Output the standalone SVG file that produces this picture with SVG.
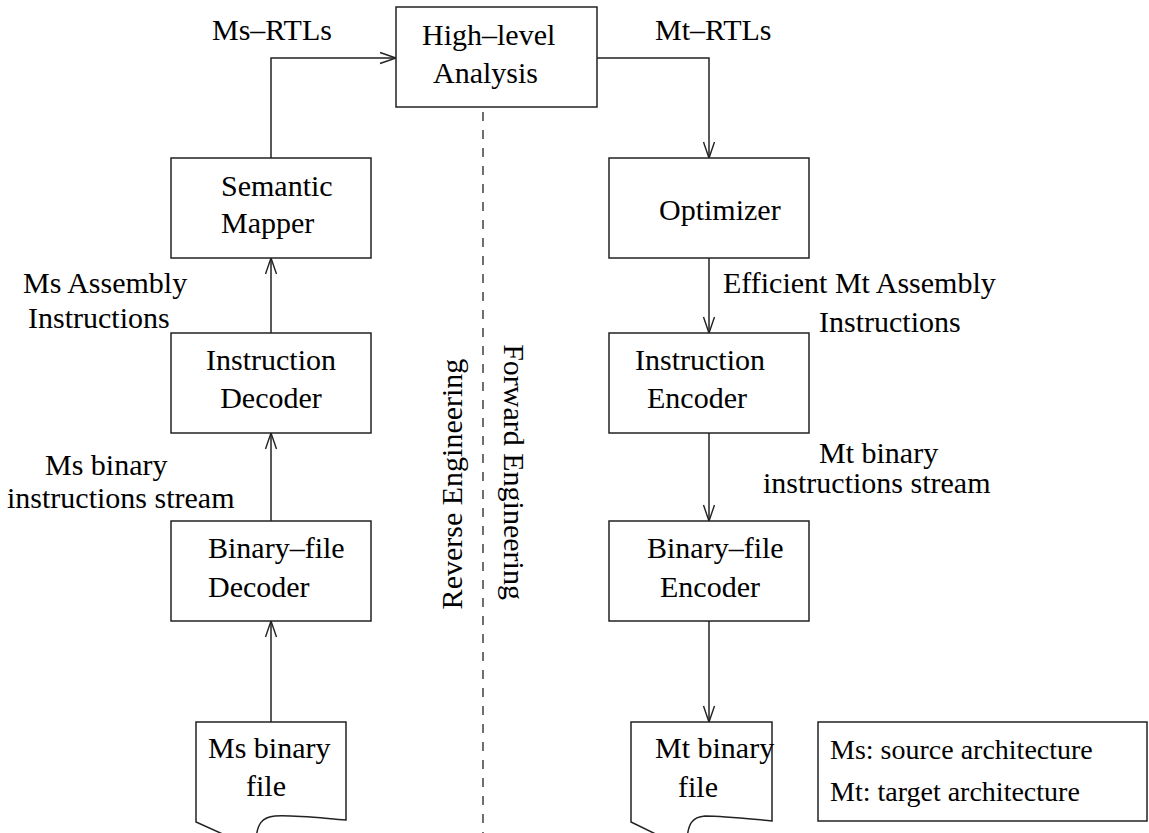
<svg xmlns="http://www.w3.org/2000/svg" width="1149" height="833" viewBox="0 0 1149 833">
<style>
  .box { fill: #ffffff; stroke: #222; stroke-width: 1.5; }
  .ln { fill: none; stroke: #222; stroke-width: 1.5; }
  .t { font-family: "Liberation Serif", "Times New Roman", serif; font-size: 30px; fill: #000; }
  .s { font-family: "Liberation Serif", "Times New Roman", serif; font-size: 28px; fill: #000; }
  .dash { fill: none; stroke: #222; stroke-width: 1.3; stroke-dasharray: 9 9; }
</style>
<defs>
  <marker id="arr" markerUnits="userSpaceOnUse" markerWidth="20" markerHeight="16" viewBox="-17 -8 19 16" refX="0" refY="0" orient="auto">
    <path d="M-16,-5.5 L0,0 L-16,5.5" fill="none" stroke="#222" stroke-width="1.4"/>
  </marker>
</defs>
<rect width="1149" height="833" fill="#ffffff"/>

<g id="connectors">
  <path class="ln" d="M271,158 V58 H396" marker-end="url(#arr)"/>
  <path class="ln" d="M271,333 V258" marker-end="url(#arr)"/>
  <path class="ln" d="M271,521 V433" marker-end="url(#arr)"/>
  <path class="ln" d="M271,722 V621" marker-end="url(#arr)"/>
  <path class="ln" d="M597,58 H709 V158" marker-end="url(#arr)"/>
  <path class="ln" d="M709,258 V333" marker-end="url(#arr)"/>
  <path class="ln" d="M709,433 V521" marker-end="url(#arr)"/>
  <path class="ln" d="M709,621 V722" marker-end="url(#arr)"/>
</g>

<g id="labels">
  <text class="t" x="212" y="40">Ms–RTLs</text>
  <text class="t" x="655" y="40">Mt–RTLs</text>
  <text class="t" x="23" y="293">Ms Assembly</text>
  <text class="t" x="28" y="328">Instructions</text>
  <text class="t" x="45" y="475">Ms binary</text>
  <text class="t" x="7" y="508">instructions stream</text>
  <text class="t" x="723" y="293">Efficient Mt Assembly</text>
  <text class="t" x="819" y="332">Instructions</text>
  <text class="t" x="819" y="463">Mt binary</text>
  <text class="t" x="763" y="493">instructions stream</text>
</g>

<g id="divider">
  <line class="dash" x1="483" y1="112" x2="483" y2="833"/>
  <text class="t" transform="translate(462,484) rotate(-90)" text-anchor="middle">Reverse Engineering</text>
  <text class="t" transform="translate(504,472) rotate(90)" text-anchor="middle">Forward Engineering</text>
</g>

<g id="high-level-analysis">
  <rect class="box" x="396" y="7" width="201" height="100"/>
  <text class="t" x="422" y="45">High–level</text>
  <text class="t" x="433" y="83">Analysis</text>
</g>

<g id="semantic-mapper">
  <rect class="box" x="171" y="158" width="200" height="100"/>
  <text class="t" x="221" y="196">Semantic</text>
  <text class="t" x="221" y="233">Mapper</text>
</g>

<g id="instruction-decoder">
  <rect class="box" x="171" y="333" width="200" height="100"/>
  <text class="t" x="271" y="370" text-anchor="middle">Instruction</text>
  <text class="t" x="271" y="408" text-anchor="middle">Decoder</text>
</g>

<g id="binary-file-decoder">
  <rect class="box" x="171" y="521" width="200" height="100"/>
  <text class="t" x="208" y="558">Binary–file</text>
  <text class="t" x="208" y="597">Decoder</text>
</g>

<g id="ms-binary-file">
  <path class="box" d="M196,722 H346 V820 C320,818 295,815 275,816 C262,817 257,824 256,840 L236,840 L196,822 Z"/>
  <text class="t" x="208" y="758">Ms binary</text>
  <text class="t" x="246" y="796">file</text>
</g>

<g id="optimizer">
  <rect class="box" x="609" y="158" width="200" height="100"/>
  <text class="t" x="659" y="220">Optimizer</text>
</g>

<g id="instruction-encoder">
  <rect class="box" x="609" y="333" width="200" height="100"/>
  <text class="t" x="635" y="370">Instruction</text>
  <text class="t" x="647" y="408">Encoder</text>
</g>

<g id="binary-file-encoder">
  <rect class="box" x="609" y="521" width="200" height="100"/>
  <text class="t" x="647" y="558">Binary–file</text>
  <text class="t" x="660" y="597">Encoder</text>
</g>

<g id="mt-binary-file">
  <path class="box" d="M631,722 H772 V821 C750,819 725,816 705,816 C692,817 688,824 687,840 L668,840 L631,822 Z"/>
  <text class="t" x="655" y="758">Mt binary</text>
  <text class="t" x="678" y="797">file</text>
</g>

<g id="legend">
  <rect class="box" x="818" y="722" width="329" height="99"/>
  <text class="s" x="830" y="759">Ms: source architecture</text>
  <text class="s" x="830" y="801">Mt: target architecture</text>
</g>
</svg>
